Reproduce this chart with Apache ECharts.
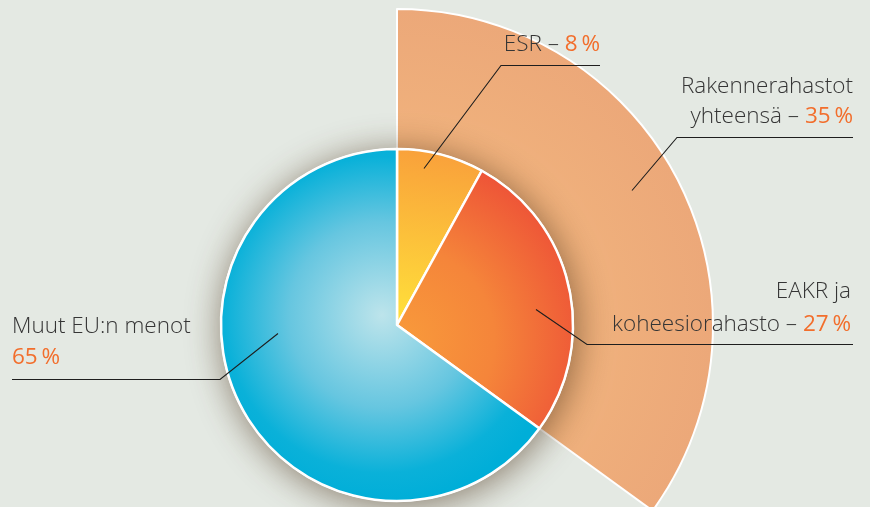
<!DOCTYPE html>
<html><head><meta charset="utf-8">
<script src="https://cdn.jsdelivr.net/npm/echarts@6/dist/echarts.min.js"></script>
<style>html,body{margin:0;padding:0;background:#E4E9E3;}#c{width:870px;height:507px;}</style>
</head><body><div id="c"></div>
<script>
const innerNames = ['ESR', 'EAKR ja koheesiorahasto', 'Muut EU:n menot'];
const innerValues = [8, 27, 65];
const outerNames = ['Rakennerahastot yhteensä', 'Muut'];
const outerValues = [35, 65];
const TS = '\u2009';
const labelLines = {
  esr: [['ESR – ', innerValues[0] + TS + '%']],
  rak: [['Rakennerahastot', ''], ['yhteensä – ', outerValues[0] + TS + '%']],
  eakr: [['EAKR ja', ''], ['koheesiorahasto – ', innerValues[1] + TS + '%']],
  muut: [['Muut EU:n menot', ''], ['', innerValues[2] + TS + '%']]
};

const chart = echarts.init(document.getElementById('c'), null, {renderer: 'canvas'});
const C = [397, 325];
const R = 176, RO = 316;
const FONT = '"Open Sans", "Noto Sans", sans-serif';
const FS = 22.5;
const TXT = '#353535', ORG = '#F26E2C';

const innerColors = [
  new echarts.graphic.LinearGradient(0, 1, 0.3, 0, [{offset: 0, color: '#FFE23A'}, {offset: 1, color: '#F9A03B'}]),
  new echarts.graphic.RadialGradient(C[0] + 5, C[1] + 15, 185, [{offset: 0, color: '#F89A3B'}, {offset: 0.5, color: '#F5853A'}, {offset: 1, color: '#EE5537'}], true),
  new echarts.graphic.RadialGradient(C[0] - 15, C[1] - 10, R + 10, [{offset: 0, color: '#BDE4EB'}, {offset: 0.5, color: '#66C6E0'}, {offset: 0.85, color: '#0AB1D9'}, {offset: 1, color: '#00AED8'}], true)
];

function rich() {
  return {
    t: {fontFamily: FONT, fontSize: FS, fontWeight: 300, fill: TXT},
    o: {fontFamily: FONT, fontSize: FS, fontWeight: 400, fill: ORG}
  };
}
function line(points) {
  return {type: 'polyline', silent: true, z: 100, shape: {points: points.map(p => [p[0], p[1] + 0.5])}, style: {stroke: '#1e1e1e', lineWidth: 1.1, fill: null}};
}
function textLine(x, baseline, parts, align) {
  let s = '';
  if (parts[0]) s += '{t|' + parts[0] + '}';
  if (parts[1]) s += '{o|' + parts[1] + '}';
  return {type: 'text', z: 100, silent: true, x: x, y: baseline - FS * 0.39,
    style: {text: s, rich: rich(), align: align, verticalAlign: 'middle', fontSize: FS, fontFamily: FONT, fontWeight: 300}};
}

chart.setOption({
  backgroundColor: '#E4E9E3',
  animation: false,
  series: [
    {
      type: 'pie', center: C, radius: [0, RO], startAngle: 90, clockwise: true, z: 1,
      silent: true, label: {show: false}, labelLine: {show: false},
      data: outerNames.map((n, i) => ({
        name: n, value: outerValues[i],
        itemStyle: i === 0
          ? {color: new echarts.graphic.RadialGradient(C[0], C[1], RO, [{offset: 0, color: '#F3BA80'}, {offset: 0.6, color: '#F0B17C'}, {offset: 1, color: '#ECA879'}], true), borderColor: '#ffffff', borderWidth: 2}
          : {color: 'rgba(0,0,0,0)', borderWidth: 0}
      }))
    },
    {
      type: 'pie', center: C, radius: [0, R + 1], startAngle: 90, z: 2, silent: true,
      label: {show: false}, labelLine: {show: false},
      data: [{value: 100, name: 'shadow', itemStyle: {color: '#ffffff', shadowBlur: 36, shadowColor: 'rgba(70,45,20,0.6)', shadowOffsetX: 2, shadowOffsetY: 4}}]
    },
    {
      type: 'pie', center: C, radius: [0, R], startAngle: 90, clockwise: true, z: 3, silent: true,
      label: {show: false}, labelLine: {show: false},
      itemStyle: {borderColor: '#ffffff', borderWidth: 2.5},
      data: innerNames.map((n, i) => ({name: n, value: innerValues[i], itemStyle: {color: innerColors[i]}}))
    }
  ],
  graphic: [
    line([[424, 168], [501, 65], [600, 65]]),
    textLine(600, 53, labelLines.esr[0], 'right'),
    line([[632, 190], [677, 137], [853, 137]]),
    textLine(853, 95, labelLines.rak[0], 'right'),
    textLine(853, 125, labelLines.rak[1], 'right'),
    line([[536, 309], [587, 344], [853, 344]]),
    textLine(851, 300, labelLines.eakr[0], 'right'),
    textLine(851, 333, labelLines.eakr[1], 'right'),
    line([[278, 333], [220, 379], [12, 379]]),
    textLine(12, 335, labelLines.muut[0], 'left'),
    textLine(12, 366, labelLines.muut[1], 'left')
  ]
});
</script></body></html>
